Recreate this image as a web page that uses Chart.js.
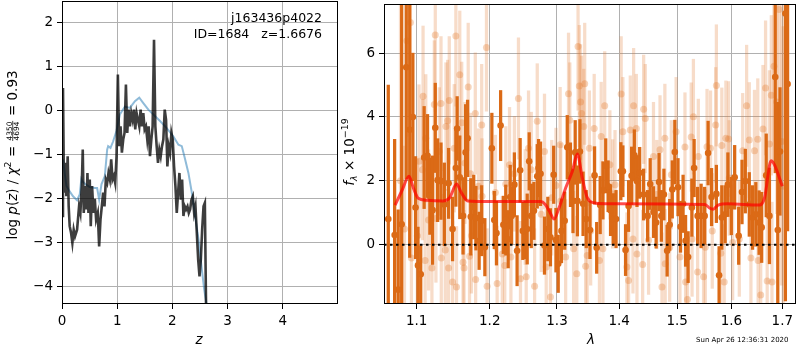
<!DOCTYPE html>
<html><head><meta charset="utf-8">
<script src="https://cdn.jsdelivr.net/npm/chart.js@4/dist/chart.umd.min.js"></script>
<style>
body{margin:0;background:#fff;width:800px;height:350px;overflow:hidden;position:relative}
canvas{position:absolute;top:0}
#c1{left:0} #c2{left:340px}
</style></head>
<body>
<canvas id="c1" width="340" height="350"></canvas>
<canvas id="c2" width="460" height="350"></canvas>
<script>
// ---------- left panel: log p(z) ----------
const zGrid = [0,0.018,0.036,0.061,0.079,0.103,0.121,0.139,0.164,0.188,0.212,0.236,0.273,0.309,0.333,0.358,0.376,0.394,0.418,0.442,0.461,0.479,0.503,0.521,0.545,0.57,0.594,0.618,0.648,0.673,0.697,0.721,0.745,0.77,0.794,0.818,0.842,0.867,0.891,0.915,0.939,0.964,0.988,1.012,1.036,1.061,1.085,1.109,1.133,1.158,1.182,1.206,1.23,1.255,1.279,1.303,1.327,1.352,1.376,1.4,1.424,1.448,1.473,1.497,1.521,1.545,1.57,1.594,1.618,1.642,1.667,1.691,1.715,1.739,1.764,1.788,1.812,1.836,1.861,1.885,1.909,1.933,1.958,1.982,2.006,2.03,2.055,2.079,2.103,2.127,2.152,2.176,2.2,2.224,2.248,2.273,2.297,2.321,2.345,2.37,2.394,2.418,2.442,2.467,2.491,2.515,2.539,2.564,2.588,2.612,2.62];
const logpData = [-2.39,0.52,-1.86,-1.18,-1.94,-1.03,-2.17,-2.62,-2.77,-3.0,-2.7,-2.85,-2.7,-2.17,-2.32,-1.71,-0.88,-2.32,-1.71,-2.24,-1.41,-2.32,-1.56,-2.62,-1.71,-2.32,-2.0,-2.47,-2.32,-3.08,-2.47,-2.17,-1.86,-2.17,-1.56,-1.64,-1.41,-1.56,-1.1,-1.56,-1.48,-1.64,-1.03,0.83,-0.8,-0.35,-0.95,-0.65,-0.5,0.6,-0.5,0.03,-0.35,-0.05,-0.2,0.03,-0.42,-0.05,-0.2,-0.35,0.03,-0.35,-0.05,-0.42,-0.35,-0.65,-0.35,-1.03,-0.65,-0.35,1.62,-0.35,-0.8,-1.18,-0.88,-1.03,-0.8,-0.65,0.03,-0.2,-1.26,-0.8,-0.95,-0.5,-0.65,-1.26,-1.71,-2.32,-1.86,-1.41,-2.02,-1.56,-2.39,-2.17,-2.24,-2.17,-2.32,-2.24,-2.02,-1.94,-2.32,-2.17,-2.77,-3.38,-3.76,-3.38,-2.7,-2.17,-2.09,-4.67,-5.5];
const zSmooth = [0.018,0.048,0.079,0.139,0.2,0.273,0.321,0.35,0.37,0.43,0.503,0.594,0.636,0.673,0.715,0.776,0.818,0.836,0.879,0.927,0.988,1.048,1.139,1.23,1.321,1.4,1.473,1.564,1.655,1.776,1.897,2.018,2.109,2.17,2.23,2.29,2.352,2.412,2.473,2.533,2.576,2.624,2.66];
const logpSmooth = [-1.1,-1.4,-1.7,-1.83,-1.94,-2.03,-1.9,-1.55,-1.6,-1.67,-1.73,-1.75,-1.75,-2.02,-1.67,-1.48,-0.88,-0.8,-0.84,-0.69,-0.45,-0.08,0.1,0.07,0.22,0.3,0.18,0.03,-0.08,-0.23,-0.39,-0.58,-0.77,-0.8,-1.1,-1.41,-1.86,-2.39,-2.92,-3.6,-4.06,-4.44,-4.9];
const zTicks = [0,1,2,3,4];
const logpTicks = [-4,-3,-2,-1,0,1,2];
const zLim = [0,5], logpLim = [-4.39,2.5];

// ---------- right panel: spectrum ----------
const darkWave = [1.0634,1.0715,1.0760,1.0805,1.0864,1.0909,1.0950,1.0985,1.1017,1.1053,1.1098,1.1143,1.1174,1.1210,1.1246,1.1278,1.1323,1.1368,1.1426,1.1480,1.1525,1.1543,1.1579,1.1624,1.1660,1.1687,1.1732,1.1773,1.1804,1.1849,1.1885,1.1930,
1.2030,1.2065,1.2096,1.2156,1.2196,1.2231,1.2266,1.2296,1.2316,1.2357,1.2397,1.2442,1.2482,1.2517,1.2547,1.2577,1.2608,1.2648,1.2698,1.2718,1.2748,1.2808,1.2859,1.2899,1.2949,1.2984,1.3019,1.3070,1.3120,1.3160,1.3210,1.3250,1.3285,1.3320,1.3360,1.3410,1.3461,1.3521,
1.3595,1.3629,1.3686,1.3731,1.3777,1.3816,1.3856,1.3902,1.3947,1.4027,1.4061,1.4106,1.4157,1.4208,1.4254,1.4299,1.4345,1.4413,1.4481,1.4526,1.4583,1.4629,1.4680,1.4720,1.4765,1.4822,1.4867,1.4913,1.4958,1.5015,1.5060,1.5106,1.5151,1.5197,1.5265,
1.5306,1.5370,1.5434,1.5499,1.5563,1.5627,1.5717,1.5768,1.5819,1.5883,1.5934,1.5999,1.6063,1.6140,1.6204,1.6268,1.6345,1.6409,1.6473,1.6537,1.6588,1.6678,1.6742,1.6858,1.6909,1.6954,1.7063,1.7108];
const darkFlux = [0.8,0.3,-1.41,0.64,5.56,3.6,4.0,1.16,-0.65,-0.93,2.73,2.78,1.52,1.08,3.66,2.02,1.99,1.26,1.92,0.49,2.4,3.64,2.11,0.9,2.89,3.33,0.87,1.18,0.83,0.12,0.75,-0.08,
3.02,0.77,0.36,3.73,0.62,0.77,0.17,1.49,0.9,1.88,-0.19,2.33,0.43,0.46,0.49,2.61,0.9,1.06,2.14,2.4,2.22,-0.03,0.49,0.23,2.19,0.14,-0.6,0.43,0.75,3.05,2.19,1.37,2.89,1.37,2.92,1.28,0.8,0.46,
2.17,-0.1,1.24,1.7,2.47,1.83,1.08,0.8,0.8,2.3,2.3,-0.17,1.21,2.16,2.8,1.99,2.25,1.57,0.9,1.9,1.02,0.69,1.96,0.9,1.57,-0.19,0.62,1.73,2.9,1.8,0.56,1.28,0.12,-0.39,1.16,
2.4,0.9,0.9,0.9,2.87,1.49,1.59,-0.96,0.85,0.95,1.88,1.21,2.11,0.28,1.65,1.99,1.26,0.85,0.95,0.69,0.54,2.17,0.9,5.25,0.46,2.92,7.24,5.03];
const darkErr = [4.2,3.0,2.5,8.0,3.5,4.0,2.0,1.6,1.2,0.9,1.6,1.3,1.2,1.7,1.4,1.3,1.2,1.3,1.1,1.0,1.2,1.0,1.3,1.2,1.5,1.2,1.2,1.0,1.0,0.9,1.1,0.9,
1.1,0.9,1.0,1.1,0.9,1.1,0.9,1.0,0.9,1.0,1.1,1.0,0.9,0.9,1.1,0.9,1.0,0.9,1.0,0.9,1.0,0.9,1.0,0.9,0.9,1.0,0.9,1.0,0.9,1.0,1.0,1.0,1.0,1.1,1.0,1.0,0.9,0.9,
0.9,0.8,0.9,0.9,0.85,0.8,0.8,0.8,0.9,0.9,0.8,0.8,0.8,0.9,0.8,0.8,0.8,0.8,0.8,0.8,0.8,0.8,0.9,0.8,0.8,0.8,0.8,0.9,1.0,0.9,0.8,0.9,0.8,0.8,0.9,
0.9,0.9,1.0,0.9,1.0,0.9,0.9,0.9,1.0,0.9,1.0,0.9,1.0,0.9,1.0,1.0,1.0,1.0,1.0,1.0,1.1,1.3,1.5,3.0,4.0,2.0,9.0,4.6];

const lightWave = [1.0790,1.0841,1.0873,1.0918,1.0931,1.1008,1.1030,1.1075,1.1084,1.1111,1.1120,1.1156,1.1201,1.1233,1.1246,1.1255,1.1300,1.1323,1.1327,1.1381,1.1390,1.1413,1.1426,1.1435,1.1480,1.1503,1.1525,1.1534,1.1579,1.1606,1.1624,1.1638,1.1651,1.1696,1.1714,1.1728,1.1741,1.1795,1.1800,1.1840,1.1885,1.1890,1.1953,1.1962,
1.2080,1.2106,1.2181,1.2216,1.2231,1.2286,1.2306,1.2357,1.2417,1.2447,1.2517,1.2532,1.2567,1.2608,1.2658,1.2698,1.2758,1.2808,1.2834,1.2899,1.2919,1.2984,1.3049,1.3059,1.3135,1.3180,1.3200,1.3260,1.3310,1.3330,1.3350,1.3370,1.3386,1.3421,1.3436,1.3451,1.3476,1.3511,
1.3532,1.3589,1.3674,1.3703,1.3731,1.3760,1.3845,1.3890,1.3930,1.4032,1.4061,1.4129,1.4157,1.4186,1.4231,1.4242,1.4288,1.4299,1.4396,1.4413,1.4441,1.4498,1.4583,1.4640,1.4697,1.4731,1.4782,1.4788,1.4867,1.4896,1.4981,1.5050,1.5140,1.5151,1.5185,1.5253,
1.5268,1.5293,1.5370,1.5383,1.5479,1.5511,1.5543,1.5608,1.5640,1.5704,1.5717,1.5800,1.5819,1.5864,1.5896,1.5947,1.5960,1.6024,1.6152,1.6217,1.6293,1.6345,1.6377,1.6447,1.6511,1.6518,1.6569,1.6614,1.6665,1.6697,1.6742,1.6780,1.6793,1.6832,1.6890,1.6935,1.6986,1.7018];
const lightFlux = [2.0,0.49,6.39,6.96,-0.42,0.28,2.61,2.35,4.65,-0.5,3.33,0.77,-0.73,4.39,6.57,0.82,2.92,4.42,-0.42,-0.17,3.7,3.88,-0.73,4.52,-1.17,3.02,6.54,-1.33,5.32,3.82,-0.55,-0.73,2.56,4.94,-0.36,2.22,0.28,4.11,-1.09,1.83,3.75,1.52,6.18,-1.3,
1.63,-1.22,-0.29,-0.65,1.9,2.5,-0.39,2.22,4.58,-1.07,1.18,-1.01,3.02,2.35,-1.3,3.87,0.95,2.92,-0.7,-1.64,1.47,1.85,3.13,1.37,-0.39,4.73,3.9,-0.13,-0.91,6.21,4.97,4.47,4.11,3.7,5.04,-0.68,-0.34,3.02,
0.43,3.64,-0.5,3.39,-0.13,4.35,2.5,1.59,1.88,4.72,3.54,-0.7,-1.12,3.59,0.18,4.35,3.64,-0.29,-0.62,4.24,3.95,0.14,2.76,1.57,2.97,-1.33,3.33,-0.6,-0.08,2.19,3.54,-0.39,3.06,-1.17,-1.72,3.37,
0.18,4.01,-0.86,2.76,-1.01,-0.08,3.07,3.02,0.43,3.75,4.99,-0.27,3.11,-1.17,3.33,3.31,2.09,0.07,0.18,2.94,4.35,3.28,-0.42,2.94,3.3,-0.5,-1.58,3.62,4.91,-1.14,3.15,4.68,-1.17,5.59,4.47,7.37,3.23,1.83];
const lightErr = [5.5,2.6,3.0,3.0,2.6,2.4,2.4,2.2,2.2,2.2,2.0,2.2,2.0,2.0,2.4,2.0,2.0,2.1,2.0,1.9,2.0,1.9,2.0,2.0,1.9,2.0,2.2,1.9,2.0,1.9,1.9,1.8,1.9,2.0,1.8,1.9,1.8,1.9,1.8,1.8,1.9,1.8,2.0,1.8,
1.8,1.8,1.8,1.8,1.8,1.8,1.8,1.8,1.9,1.8,1.8,1.8,1.8,1.8,1.8,1.8,1.8,1.8,1.8,1.8,1.8,1.8,1.8,1.8,1.8,1.9,1.8,1.8,1.8,2.0,1.9,1.8,1.8,1.8,1.9,1.8,1.8,1.8,
1.7,1.7,1.7,1.7,1.7,1.7,1.7,1.7,1.7,1.8,1.7,1.7,1.7,1.7,1.7,1.8,1.7,1.7,1.7,1.7,1.7,1.7,1.7,1.7,1.7,1.7,1.7,1.7,1.7,1.7,1.7,1.7,1.7,1.7,1.7,1.7,
1.8,1.8,1.8,1.8,1.8,1.8,1.8,1.8,1.8,1.8,1.9,1.8,1.8,1.8,1.8,1.8,1.8,1.8,1.8,1.8,1.9,1.8,1.8,1.9,1.9,1.9,1.9,2.0,2.1,2.1,2.3,2.5,2.5,3.0,3.5,4.0,4.5,5.0];

const modelWave = [1.0721,1.0806,1.0900,1.0956,1.1020,1.1130,1.1350,1.1440,1.1535,1.1600,1.1690,1.2000,1.2750,1.2820,1.2880,1.2956,1.3033,1.3136,1.3240,1.3318,1.3398,1.3477,1.3585,1.3774,1.5505,1.5596,1.5657,1.5750,1.5937,1.6546,1.6645,1.6775,1.6843,1.7000];
const modelFlux = [1.24,1.68,2.14,1.78,1.45,1.39,1.37,1.47,1.90,1.63,1.37,1.35,1.35,1.26,1.06,0.80,1.16,1.78,2.30,2.84,2.09,1.47,1.31,1.28,1.26,1.14,1.11,1.24,1.28,1.24,1.47,2.63,2.50,1.83];
const waveTicks = [1.1,1.2,1.3,1.4,1.5,1.6,1.7];
const fluxTicks = [0,2,4,6];
const waveLim = [1.058,1.728], fluxLim = [-1.86,7.54];

// ---------- helpers ----------
const FONT = 'DejaVu Sans';
const TICK = 13.5;
const minus = v => (v < 0 ? '\u2212' + Math.abs(v) : String(v));
const frame = {id:'frame', afterDraw(chart){
  const {ctx, chartArea:a} = chart;
  ctx.save(); ctx.strokeStyle = '#000'; ctx.lineWidth = 1;
  const l = Math.floor(a.left)+0.5, t = Math.floor(a.top)+0.5, r = Math.floor(a.right)-0.5, b = Math.floor(a.bottom)-0.5;
  ctx.strokeRect(l, t, r-l, b-t); ctx.restore();
}};
function runs(ctx, items, cx, cy, bx){
  // rotated text (reading upward), centred at cy, baseline at screen x = bx
  let total = 0;
  items.forEach(it => { ctx.font = it.f; it.w = it.frac ? Math.max(ctx.measureText(it.n).width, ctx.measureText(it.d).width) + 2 : ctx.measureText(it.t).width; total += it.w; });
  ctx.save(); ctx.translate(bx, cy); ctx.rotate(-Math.PI/2);
  ctx.fillStyle = '#000'; ctx.strokeStyle = '#000'; ctx.textBaseline = 'alphabetic'; ctx.textAlign = 'left';
  let u = -total/2;
  items.forEach(it => {
    ctx.font = it.f;
    if (it.frac) {
      const wn = ctx.measureText(it.n).width, wd = ctx.measureText(it.d).width;
      ctx.fillText(it.n, u + (it.w - wn)/2, it.nb);
      ctx.fillText(it.d, u + (it.w - wd)/2, it.db);
      ctx.lineWidth = 0.7; ctx.beginPath(); ctx.moveTo(u+0.5, it.bar); ctx.lineTo(u+it.w-0.5, it.bar); ctx.stroke();
    } else ctx.fillText(it.t, u, it.dy || 0);
    u += it.w;
  });
  ctx.restore();
}
const axisCommon = {
  grid:{color:'#b0b0b0', lineWidth:1, tickColor:'#000', tickLength:5, offset:false},
  border:{display:false},
  ticks:{color:'#000', font:{family:FONT, size:TICK}, padding:4, maxRotation:0, autoSkip:false}
};

// ---------- chart 1 ----------
const F = 13.5, fN = `${F}px "${FONT}"`, fI = `italic ${F}px "${FONT}"`;
const text1 = {id:'text1', afterDraw(chart){
  const ctx = chart.ctx; ctx.save(); ctx.fillStyle = '#000';
  ctx.font = `12.5px "${FONT}"`; ctx.textAlign = 'right'; ctx.textBaseline = 'alphabetic';
  ctx.fillText('j163436p4022', 322, 21.5);
  ctx.fillText('ID=1684   z=1.6676', 322, 37.5);
  ctx.font = fI; ctx.textAlign = 'center'; ctx.textBaseline = 'middle';
  ctx.fillText('z', 199, 340);
  ctx.restore();
  runs(ctx, [
    {t:'log ', f:fN}, {t:'p', f:fI}, {t:'(', f:fN}, {t:'z', f:fI}, {t:') / ', f:fN}, {t:'\u03c7', f:fI},
    {t:'2', f:`${F*0.7}px "${FONT}"`, dy:-F*0.42}, {t:' = ', f:fN},
    {frac:true, n:'4350', d:'4694', f:`7.5px "${FONT}"`, nb:-5.2, db:1.8, bar:-4.3},
    {t:' = 0.93', f:fN}
  ], 0, 155, 17);
}};
new Chart(document.getElementById('c1'), {
  type:'scatter',
  data:{datasets:[
    {data: zSmooth.map((z,i)=>({x:z, y:logpSmooth[i]})), showLine:true, borderColor:'rgba(31,119,180,0.5)', borderWidth:2, pointRadius:0, order:2},
    {data: zGrid.map((z,i)=>({x:z, y:logpData[i]})), showLine:true, borderColor:'rgba(0,0,0,0.76)', borderWidth:2.6, pointRadius:0, order:1}
  ]},
  options:{
    responsive:false, animation:false, events:[],
    layout:{padding:{left:0, right:2, top:1, bottom:0}},
    plugins:{legend:{display:false}, tooltip:{enabled:false}},
    scales:{
      x:{type:'linear', min:zLim[0], max:zLim[1], ...axisCommon,
         ticks:{...axisCommon.ticks, callback:v=>minus(v)},
         afterBuildTicks:s=>{s.ticks = zTicks.map(v=>({value:v}));},
         afterFit:s=>{s.height = 46; s.paddingLeft = 0; s.paddingRight = 0;}},
      y:{type:'linear', min:logpLim[0], max:logpLim[1], ...axisCommon,
         ticks:{...axisCommon.ticks, callback:v=>minus(v)},
         afterBuildTicks:s=>{s.ticks = logpTicks.map(v=>({value:v}));},
         afterFit:s=>{s.width = 62; s.paddingTop = 0; s.paddingBottom = 0;}}
    }
  },
  plugins:[frame, text1]
});

// ---------- chart 2 ----------
const DARK = 'rgb(219,106,22)', LIGHT_BAR = 'rgba(226,120,45,0.26)', LIGHT_PT = 'rgba(226,120,45,0.32)';
const text2 = {id:'text2', afterDraw(chart){
  const ctx = chart.ctx; ctx.save(); ctx.fillStyle = '#000';
  ctx.font = fI; ctx.textAlign = 'center'; ctx.textBaseline = 'middle';
  ctx.fillText('\u03bb', 251, 340);
  ctx.font = `7px "${FONT}"`; ctx.textAlign = 'left'; ctx.textBaseline = 'alphabetic';
  ctx.fillText('Sun Apr 26 12:36:31 2020', 356, 341.5);
  ctx.restore();
  runs(ctx, [
    {t:'f', f:fI}, {t:'\u03bb', f:`italic ${F*0.7}px "${FONT}"`, dy:F*0.22},
    {t:' \u00d7 10', f:fN}, {t:'\u221219', f:`${F*0.7}px "${FONT}"`, dy:-F*0.45}
  ], 0, 152, 14);
}};
new Chart(document.getElementById('c2'), {
  type:'scatter',
  data:{datasets:[
    {type:'line', data:[{x:waveLim[0], y:0},{x:waveLim[1], y:0}], borderColor:'#000', borderWidth:2, borderDash:[2.5,3.5], pointRadius:0, order:0},
    {type:'line', data: modelWave.map((w,i)=>({x:w, y:modelFlux[i]})), borderColor:'rgba(255,0,0,0.7)', borderWidth:3, pointRadius:0, cubicInterpolationMode:'monotone', order:1},
    {type:'scatter', data: darkWave.map((w,i)=>({x:w, y:darkFlux[i]})), backgroundColor:DARK, borderWidth:0, pointRadius:3.3, order:2},
    {type:'bar', data: darkWave.map((w,i)=>({x:w, y:[darkFlux[i]-darkErr[i], darkFlux[i]+darkErr[i]]})), backgroundColor:DARK, borderWidth:0, barThickness:2.6, grouped:false, order:3},
    {type:'scatter', data: lightWave.map((w,i)=>({x:w, y:lightFlux[i]})), backgroundColor:LIGHT_PT, borderWidth:0, pointRadius:3.5, order:4},
    {type:'bar', data: lightWave.map((w,i)=>({x:w, y:[lightFlux[i]-lightErr[i], lightFlux[i]+lightErr[i]]})), backgroundColor:LIGHT_BAR, borderWidth:0, barThickness:2.6, grouped:false, order:5}
  ]},
  options:{
    responsive:false, animation:false, events:[],
    layout:{padding:{left:0, right:1, top:1, bottom:0}},
    plugins:{legend:{display:false}, tooltip:{enabled:false}},
    scales:{
      x:{type:'logarithmic', min:waveLim[0], max:waveLim[1], offset:false, ...axisCommon,
         ticks:{...axisCommon.ticks, callback:v=>Number(v).toFixed(1)},
         afterBuildTicks:s=>{s.ticks = waveTicks.map(v=>({value:v}));},
         afterFit:s=>{s.height = 46; s.paddingLeft = 0; s.paddingRight = 0;}},
      y:{type:'linear', min:fluxLim[0], max:fluxLim[1], ...axisCommon,
         ticks:{...axisCommon.ticks, callback:v=>minus(v)},
         afterBuildTicks:s=>{s.ticks = fluxTicks.map(v=>({value:v}));},
         afterFit:s=>{s.width = 44; s.paddingTop = 0; s.paddingBottom = 0;}}
    }
  },
  plugins:[frame, text2]
});
</script>
</body></html>
